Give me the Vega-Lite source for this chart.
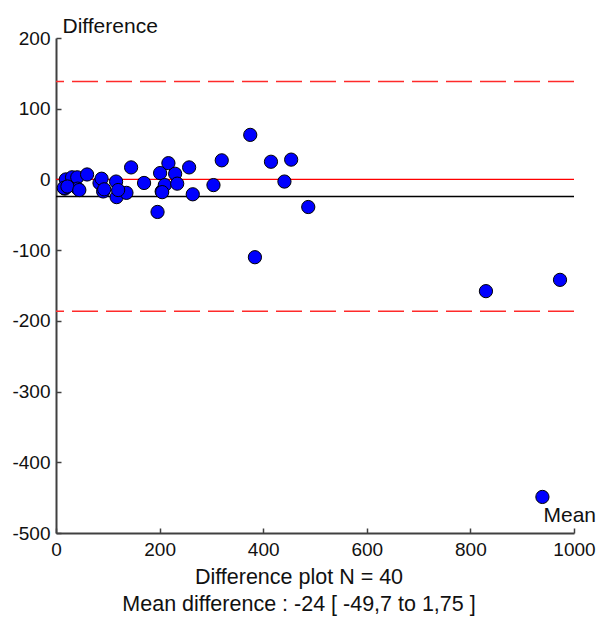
{
  "$schema": "https://vega.github.io/schema/vega-lite/v6.json",
  "autosize": "none",
  "width": 518,
  "height": 495,
  "padding": {"left": 56, "top": 38, "right": 22, "bottom": 84},
  "background": "white",
  "config": {
    "view": {"stroke": null},
    "font": "Liberation Sans",
    "axis": {
      "grid": false,
      "domainColor": "#404040",
      "domainWidth": 2,
      "tickColor": "#404040",
      "tickWidth": 1.5,
      "tickSize": -5,
      "labelFlush": false,
      "labelOverlap": false,
      "labelFont": "Liberation Sans",
      "labelFontSize": 19,
      "labelColor": "#111111",
      "titleFont": "Liberation Sans",
      "titleFontSize": 21,
      "titleFontWeight": "normal",
      "titleColor": "#111111"
    }
  },
  "title": {
    "text": ["Difference plot N = 40", "Mean difference : -24 [ -49,7 to 1,75 ]"],
    "orient": "bottom",
    "anchor": "middle",
    "dx": -16,
    "offset": 8,
    "font": "Liberation Sans",
    "fontSize": 21.5,
    "fontWeight": "normal",
    "color": "#111111",
    "lineHeight": 27
  },
  "datasets": {
    "pairs": [
      {"mean": 17, "diff": -13},
      {"mean": 19, "diff": 0},
      {"mean": 31, "diff": 3},
      {"mean": 41, "diff": 3},
      {"mean": 42, "diff": -13},
      {"mean": 60, "diff": 7},
      {"mean": 84, "diff": -5},
      {"mean": 88, "diff": 1},
      {"mean": 91, "diff": -17},
      {"mean": 116, "diff": -3},
      {"mean": 117, "diff": -25},
      {"mean": 136, "diff": -19},
      {"mean": 145, "diff": 17},
      {"mean": 170, "diff": -5},
      {"mean": 196, "diff": -46},
      {"mean": 201, "diff": 9},
      {"mean": 204, "diff": -17},
      {"mean": 210, "diff": -8},
      {"mean": 217, "diff": 23},
      {"mean": 230, "diff": 8},
      {"mean": 234, "diff": -6},
      {"mean": 257, "diff": 17},
      {"mean": 264, "diff": -21},
      {"mean": 304, "diff": -8},
      {"mean": 320, "diff": 27},
      {"mean": 375, "diff": 63},
      {"mean": 384, "diff": -110},
      {"mean": 415, "diff": 25},
      {"mean": 441, "diff": -3},
      {"mean": 454, "diff": 28},
      {"mean": 487, "diff": -39},
      {"mean": 830, "diff": -158},
      {"mean": 973, "diff": -142},
      {"mean": 939, "diff": -449},
      {"mean": 15, "diff": -12},
      {"mean": 22, "diff": -10},
      {"mean": 45, "diff": -15},
      {"mean": 93, "diff": -14},
      {"mean": 205, "diff": -18},
      {"mean": 120, "diff": -15}
    ],
    "limits": [
      {"value": 138.5},
      {"value": -186.5}
    ],
    "zero": [{"value": 0}],
    "bias": [{"value": -24}]
  },
  "encoding": {
    "x": {
      "field": "mean",
      "type": "quantitative",
      "scale": {"domain": [0, 1000], "nice": false, "zero": false},
      "axis": {
        "values": [0, 200, 400, 600, 800, 1000],
        "labelExpr": "'' + datum.value",
        "labelPadding": 12,
        "title": "Mean",
        "titleAlign": "left",
        "titleBaseline": "alphabetic",
        "titleAnchor": "start",
        "titleX": 487,
        "titleY": -12
      }
    },
    "y": {
      "field": "diff",
      "type": "quantitative",
      "scale": {"domain": [-500, 200], "nice": false, "zero": false},
      "axis": {
        "values": [-500, -400, -300, -200, -100, 0, 100, 200],
        "labelExpr": "'' + datum.value",
        "labelPadding": 11,
        "title": "Difference",
        "titleAngle": 0,
        "titleAlign": "left",
        "titleBaseline": "alphabetic",
        "titleAnchor": "start",
        "titleX": 6,
        "titleY": -6
      }
    }
  },
  "layer": [
    {
      "data": {"name": "limits"},
      "mark": {"type": "rule", "color": "#ff2a2a", "strokeWidth": 1.5, "strokeDash": [26, 8]},
      "encoding": {"y": {"field": "value", "type": "quantitative"}, "x": null}
    },
    {
      "data": {"name": "zero"},
      "mark": {"type": "rule", "color": "#ff0000", "strokeWidth": 1.3},
      "encoding": {"y": {"field": "value", "type": "quantitative"}, "x": null}
    },
    {
      "data": {"name": "bias"},
      "mark": {"type": "rule", "color": "#000000", "strokeWidth": 1.5},
      "encoding": {"y": {"field": "value", "type": "quantitative"}, "x": null}
    },
    {
      "data": {"name": "pairs"},
      "mark": {"type": "point", "shape": "circle", "filled": true, "fill": "#0000ff", "stroke": "#000000", "strokeWidth": 1, "opacity": 1, "size": 175}
    }
  ]
}
